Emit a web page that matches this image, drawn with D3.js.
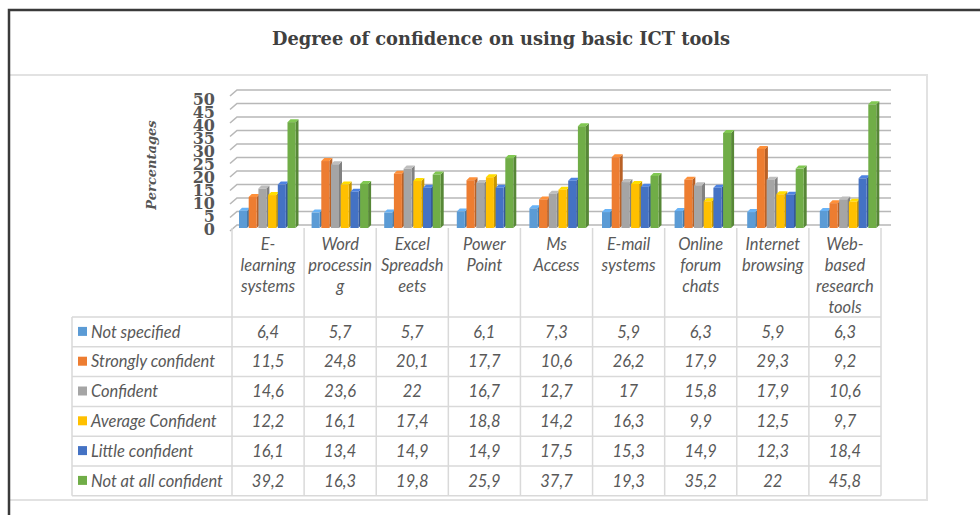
<!DOCTYPE html>
<html><head><meta charset="utf-8">
<script src="https://cdn.jsdelivr.net/npm/d3@7"></script>
<style>html,body{margin:0;padding:0;background:#fff;}svg{display:block;}</style>
</head><body>
<svg id="chart" width="980" height="515"></svg>
<script>
const title = "Degree of confidence on using basic ICT tools";
const yTitle = "Percentages";
const categories = ["E-learning systems","Word processing","Excel Spreadsheets","Power Point","Ms Access","E-mail systems","Online forum chats","Internet browsing","Web-based research tools"];
const categoryLines = [["E-","learning","systems"],["Word","processin","g"],["Excel","Spreadsh","eets"],["Power","Point"],["Ms","Access"],["E-mail","systems"],["Online","forum","chats"],["Internet","browsing"],["Web-","based","research","tools"]];
const seriesNames = ["Not specified","Strongly confident","Confident","Average Confident","Little confident","Not at all confident"];
const seriesColors = ["#5B9BD5","#ED7D31","#A5A5A5","#FFC000","#4472C4","#70AD47"];
const notSpecified      = [6.4,5.7,5.7,6.1,7.3,5.9,6.3,5.9,6.3];
const stronglyConfident = [11.5,24.8,20.1,17.7,10.6,26.2,17.9,29.3,9.2];
const confident         = [14.6,23.6,22,16.7,12.7,17,15.8,17.9,10.6];
const averageConfident  = [12.2,16.1,17.4,18.8,14.2,16.3,9.9,12.5,9.7];
const littleConfident   = [16.1,13.4,14.9,14.9,17.5,15.3,14.9,12.3,18.4];
const notAtAllConfident = [39.2,16.3,19.8,25.9,37.7,19.3,35.2,22,45.8];
const yTicks = [0,5,10,15,20,25,30,35,40,45,50];

const seriesValues = [notSpecified,stronglyConfident,confident,averageConfident,littleConfident,notAtAllConfident];

const svg = d3.select("#chart");

// frames
svg.append("rect").attr("x",9).attr("y",75).attr("width",918).attr("height",425)
  .attr("fill","none").attr("stroke","#e2e2e2").attr("stroke-width",2);
svg.append("path").attr("d","M9,515V10H980").attr("fill","none").attr("stroke","#3a3a3a").attr("stroke-width",2.5);

// title
svg.append("text").attr("x",501).attr("y",45).attr("text-anchor","middle")
  .attr("font-family","'DejaVu Serif', serif").attr("font-weight","bold").attr("font-size",19)
  .attr("textLength",458).attr("lengthAdjust","spacingAndGlyphs")
  .attr("fill","#404040").text(title);

// scales
const yBack = d3.scaleLinear().domain([0,50]).range([225,90]);
const yFront = d3.scaleLinear().domain([0,50]).range([228,93]);
const yLabel = d3.scaleLinear().domain([0,50]).range([229,99]);
const xTable = d3.scaleBand().domain(categories).range([232,881]);
const xBars = d3.scaleBand().domain(categories).range([232,885.4]);
const xInner = d3.scaleBand().domain(seriesNames).range([7,65.2]);
const barW = 8, dx = 3, dy = -3;

// gridlines
const grid = svg.append("g");
yTicks.forEach(t => {
  const y = yBack(t);
  grid.append("path").attr("d",`M230,${y+6}L237,${y}H891`)
    .attr("fill","none").attr("stroke","#b8b8b8").attr("stroke-width",1.6);
});

// y tick labels (overlapping, as in the reference)
svg.append("g").selectAll("text").data(yTicks.slice().reverse()).join("text")
  .attr("x",215).attr("y",d=>yLabel(d)).attr("dy","0.36em").attr("text-anchor","end")
  .attr("font-family","'DejaVu Serif', serif").attr("font-weight","bold").attr("font-size",16)
  .attr("fill","#555").text(d=>d);

// y title
svg.append("text").attr("transform","translate(156,165) rotate(-90)").attr("text-anchor","middle")
  .attr("font-family","'DejaVu Serif', serif").attr("font-weight","bold").attr("font-style","italic")
  .attr("font-size",13).attr("fill","#555").text(yTitle);

// bars
const bars = svg.append("g");
categories.forEach((c,ci) => {
  seriesNames.forEach((s,si) => {
    const v = seriesValues[si][ci];
    const col = d3.color(seriesColors[si]);
    const x0 = xBars(c) + xInner(s);
    const top = yFront(v), base = yFront(0);
    const g = bars.append("g");
    g.append("path").attr("d",`M${x0+barW},${top}L${x0+barW+dx},${top+dy}L${x0+barW+dx},${base+dy}L${x0+barW},${base}Z`)
      .attr("fill",col.darker(0.7));
    g.append("path").attr("d",`M${x0},${top}L${x0+dx},${top+dy}L${x0+barW+dx},${top+dy}L${x0+barW},${top}Z`)
      .attr("fill",col.brighter(0.4));
    g.append("rect").attr("x",x0).attr("y",top).attr("width",barW).attr("height",base-top)
      .attr("fill",col);
  });
});

// data table
const rowTop = 317, rowH = 29.8;
const tbl = svg.append("g");
const lineCol = "#d9d9d9";
for (let r=0;r<=seriesNames.length;r++){
  const y = rowTop + r*rowH;
  tbl.append("line").attr("x1",72).attr("x2",881).attr("y1",y).attr("y2",y).attr("stroke",lineCol).attr("stroke-width",1.5);
}
tbl.append("line").attr("x1",72).attr("x2",72).attr("y1",rowTop).attr("y2",rowTop+6*rowH).attr("stroke",lineCol).attr("stroke-width",1.5);
categories.forEach((c,i)=>{
  const x = xTable(c);
  tbl.append("line").attr("x1",x).attr("x2",x).attr("y1",228).attr("y2",rowTop+6*rowH).attr("stroke",lineCol).attr("stroke-width",1.5);
});
tbl.append("line").attr("x1",881).attr("x2",881).attr("y1",228).attr("y2",rowTop+6*rowH).attr("stroke",lineCol).attr("stroke-width",1.5);

const font = "Lato, 'Open Sans', sans-serif";
const fs = 16.5;
categories.forEach((c,i)=>{
  const t = tbl.append("text").attr("text-anchor","middle")
    .attr("font-family",font).attr("font-style","italic").attr("font-size",fs).attr("fill","#595959");
  categoryLines[i].forEach((ln,li)=>{
    t.append("tspan").attr("x",xTable(c)+xTable.bandwidth()/2).attr("y",250+li*21).text(ln);
  });
});
seriesNames.forEach((s,si)=>{
  const yc = rowTop + si*rowH + rowH/2;
  tbl.append("rect").attr("x",78).attr("y",yc-5).attr("width",9).attr("height",9).attr("fill",seriesColors[si]);
  tbl.append("text").attr("x",91).attr("y",yc).attr("dy","0.35em")
    .attr("font-family",font).attr("font-style","italic").attr("font-size",fs).attr("fill","#595959").text(s);
  categories.forEach((c,ci)=>{
    tbl.append("text").attr("x",xTable(c)+xTable.bandwidth()/2).attr("y",yc).attr("dy","0.35em").attr("text-anchor","middle")
      .attr("font-family",font).attr("font-style","italic").attr("font-size",fs).attr("fill","#595959")
      .text(String(seriesValues[si][ci]).replace(".",","));
  });
});
</script>
</body></html>
